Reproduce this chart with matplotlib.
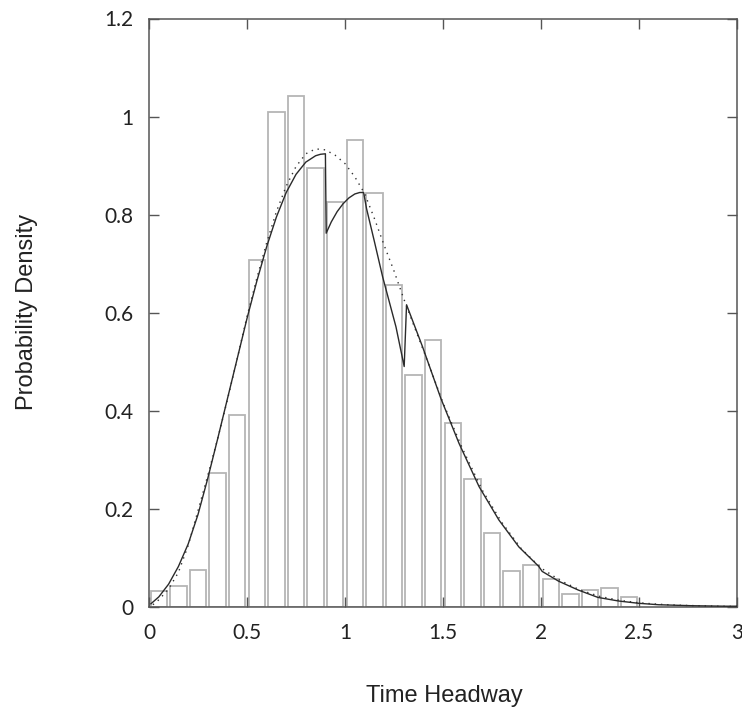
import matplotlib
matplotlib.use("Agg")
import matplotlib.pyplot as plt
import numpy as np

# Histogram (bin centres and densities)
bin_centers = [0.05, 0.15, 0.25, 0.35, 0.45, 0.55, 0.65, 0.75, 0.85, 0.95,
               1.05, 1.15, 1.25, 1.35, 1.45, 1.55, 1.65, 1.75, 1.85, 1.95,
               2.05, 2.15, 2.25, 2.35, 2.45]
densities = [0.032, 0.042, 0.074, 0.273, 0.392, 0.707, 1.010, 1.041, 0.895, 0.826,
             0.952, 0.843, 0.657, 0.473, 0.545, 0.375, 0.261, 0.151, 0.073, 0.086,
             0.057, 0.025, 0.035, 0.038, 0.020]

# Smooth fitted density (dotted)
fit_x = [0.02, 0.05, 0.10, 0.15, 0.20, 0.25, 0.30, 0.35, 0.40, 0.45, 0.50, 0.55,
         0.60, 0.65, 0.70, 0.75, 0.80, 0.85, 0.90, 0.95, 1.00, 1.05, 1.10, 1.15,
         1.20, 1.25, 1.30, 1.35, 1.40, 1.45, 1.50, 1.60, 1.70, 1.80, 1.90, 2.00,
         2.10, 2.20, 2.30, 2.40, 2.50, 2.60, 2.70, 2.80, 2.90, 3.00]
fit_y = [0.004, 0.014, 0.036, 0.070, 0.125, 0.196, 0.268, 0.342, 0.422, 0.506,
         0.592, 0.670, 0.742, 0.806, 0.858, 0.898, 0.924, 0.934, 0.932, 0.921,
         0.904, 0.877, 0.843, 0.792, 0.737, 0.685, 0.628, 0.575, 0.523, 0.470,
         0.416, 0.322, 0.238, 0.172, 0.118, 0.079, 0.053, 0.034, 0.021, 0.013,
         0.008, 0.005, 0.003, 0.002, 0.001, 0.0005]

# Piecewise model density (solid)
model_x = [0.01, 0.05, 0.10, 0.15, 0.20, 0.25, 0.30, 0.35, 0.40, 0.45, 0.50,
           0.55, 0.60, 0.65, 0.70, 0.75, 0.80, 0.85, 0.875, 0.90,
           0.904, 0.93, 0.96, 0.99, 1.02, 1.05, 1.075, 1.095, 1.11, 1.15,
           1.192, 1.26, 1.302, 1.314, 1.395, 1.489, 1.582, 1.684, 1.785, 1.887,
           1.989, 2.006, 2.09, 2.19, 2.29, 2.396, 2.497, 2.60, 2.77, 2.94, 3.00]
model_y = [0.006, 0.020, 0.046, 0.082, 0.128, 0.188, 0.262, 0.342, 0.424, 0.506,
           0.588, 0.664, 0.734, 0.795, 0.845, 0.882, 0.907, 0.920, 0.923, 0.924,
           0.762, 0.785, 0.806, 0.822, 0.834, 0.842, 0.845, 0.845, 0.812, 0.745,
           0.673, 0.571, 0.490, 0.616, 0.531, 0.425, 0.333, 0.245, 0.177, 0.122,
           0.082, 0.072, 0.052, 0.034, 0.019, 0.0116, 0.007, 0.004, 0.002, 0.001,
           0.001]

x_ticks = [0, 0.5, 1, 1.5, 2, 2.5, 3]
x_tick_labels = ["0", "0.5", "1", "1.5", "2", "2.5", "3"]
y_ticks = [0, 0.2, 0.4, 0.6, 0.8, 1.0, 1.2]
y_tick_labels = ["0", "0.2", "0.4", "0.6", "0.8", "1", "1.2"]

fig = plt.figure(figsize=(7.42, 7.09), dpi=100)
ax = fig.add_axes([149/742, 1 - 606.7/709, (737 - 149)/742, (606.7 - 18.5)/709])

ax.bar(bin_centers, densities, width=0.083, facecolor="white",
       edgecolor="#b5b5b5", linewidth=1.3, zorder=1)
ax.plot(fit_x, fit_y, color="#333333", linewidth=1.0,
        linestyle=(0, (1, 3.5)), zorder=3)
ax.plot(model_x, model_y, color="#2a2a2a", linewidth=1.0, zorder=4)

ax.set_xlim(0, 3)
ax.set_ylim(0, 1.2)
ax.set_xticks(x_ticks)
ax.set_xticklabels(x_tick_labels)
ax.set_yticks(y_ticks)
ax.set_yticklabels(y_tick_labels)

for s in ax.spines.values():
    s.set_color("#555555")
    s.set_linewidth(1.1)

ax.tick_params(direction="in", length=7.5, width=1.0, color="#555555",
               top=True, right=True, labelsize=15, labelcolor="#222222")
ax.tick_params(axis="x", pad=12)
ax.tick_params(axis="y", pad=11)
for lab in ax.get_xticklabels() + ax.get_yticklabels():
    lab.set_family("Lato")

fig.text(444/742, 1 - 702/709, "Time Headway", ha="center", va="baseline",
         fontsize=17, family="Liberation Sans", color="#222222")
fig.text(32.7/742, 1 - 311.5/709, "Probability Density", ha="center",
         va="baseline", rotation=90, rotation_mode="anchor", fontsize=17,
         family="Liberation Sans", color="#222222")

fig.savefig("out.png", dpi=100)
